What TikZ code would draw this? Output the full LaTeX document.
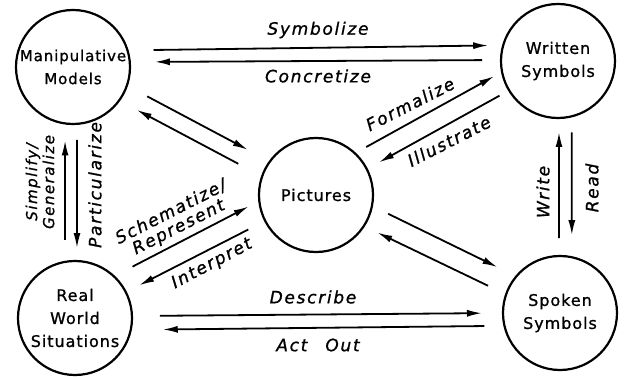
\documentclass[tikz,border=0pt]{standalone}
\usepackage{fontspec}
\newfontfamily\handfont{DejaVu Sans}[LetterSpace=6, FakeBold=1]
\newfontfamily\handlabelfont{DejaVu Sans}[LetterSpace=10, FakeBold=1]
\usetikzlibrary{arrows.meta}

\begin{document}
\begin{tikzpicture}[
                x = 1pt, y = -1pt,
                bubble/.style = {
                    circle,
                    draw            = black,
                    line width      = 2.2pt,
                    minimum size    = 114pt,
                    inner sep       = 0pt,
                    outer sep       = 0pt,
                    align           = center,
                    font            = \handfont\fontsize{16}{23}\selectfont
                },
                linklabel/.style = {
                    inner sep       = 0pt,
                    align           = center,
                    font            = \handlabelfont\itshape\fontsize{17}{17}\selectfont
                },
                flowarrow/.style = {-{Latex[length=15pt, width=7pt]}, line width = 1.8pt}
            ]

                \useasboundingbox (0, 0) rectangle (624, 377);

                \node[bubble, font=\handfont\fontsize{15}{23}\selectfont] (models) at (73, 67) {Manipulative\\Models};
                \node[bubble] (written)  at (558, 61)  {Written\\Symbols};
                \node[bubble] (pictures) at (316, 195) {Pictures};
                \node[bubble] (real)     at (75, 318)  {Real\\World\\Situations};
                \node[bubble] (spoken)   at (560, 313) {Spoken\\Symbols};

                \draw[flowarrow, shorten <=26pt, shorten >=15pt] (models.17) -- (written.164);
                \draw[flowarrow, shorten <=19pt, shorten >=25pt] (written.179) -- (models.5);
                \draw[flowarrow, shorten <=23pt, shorten >=25pt] (models.-19) -- (pictures.144);
                \draw[flowarrow, shorten <=27pt, shorten >=20pt] (pictures.161) -- (models.-36);
                \draw[flowarrow, shorten <=13pt, shorten >=9pt]  (pictures.47) -- (written.191);
                \draw[flowarrow, shorten <=11pt, shorten >=14pt] (written.211) -- (pictures.27);
                \draw[flowarrow, shorten <=21pt, shorten >=12pt] (real.47) -- (pictures.186);
                \draw[flowarrow, shorten <=19pt, shorten >=15pt] (pictures.207) -- (real.27);
                \draw[flowarrow, shorten <=28pt, shorten >=21pt] (real.2) -- (spoken.180);
                \draw[flowarrow, shorten <=20pt, shorten >=32pt] (spoken.193) -- (real.-12);
                \draw[flowarrow, shorten <=18pt, shorten >=21pt] (pictures.-11) -- (spoken.140);
                \draw[flowarrow, shorten <=20pt, shorten >=15pt] (spoken.161) -- (pictures.-33);
                \draw[flowarrow, shorten <=22pt, shorten >=17pt] (real.100) -- (models.262);
                \draw[flowarrow, shorten <=16pt, shorten >=13pt] (models.274) -- (real.88);
                \draw[flowarrow, shorten <=18pt, shorten >=14pt] (spoken.91) -- (written.271);
                \draw[flowarrow, shorten <=16pt, shorten >=22pt] (written.284) -- (spoken.78);

                \node[linklabel] (symbolize)  at (318, 30)  {Symbolize};
                \node[linklabel] (concretize) at (318, 76)  {Concretize};
                \node[linklabel, rotate=27] (formalize)  at (410, 104) {Formalize};
                \node[linklabel, rotate=27] (illustrate) at (449, 141) {Illustrate};
                \node[linklabel, rotate=27] (schematize) at (175, 220) {Schematize/\\Represent};
                \node[linklabel, rotate=28] (interpret)  at (212, 264) {Interpret};
                \node[linklabel] (describe) at (313, 297) {Describe};
                \node[linklabel] (actout)   at (318, 345) {Act\hspace{18pt}Out};
                \node[linklabel, rotate=90, font=\handlabelfont\itshape\fontsize{15}{17}\selectfont] (simplify) at (40, 182) {Simplify/\\Generalize};
                \node[linklabel, rotate=90] (particularize) at (95, 185)  {Particularize};
                \node[linklabel, rotate=90] (write)         at (543, 192) {Write};
                \node[linklabel, rotate=90] (read)          at (592, 188) {Read};
            \end{tikzpicture}
\end{document}
